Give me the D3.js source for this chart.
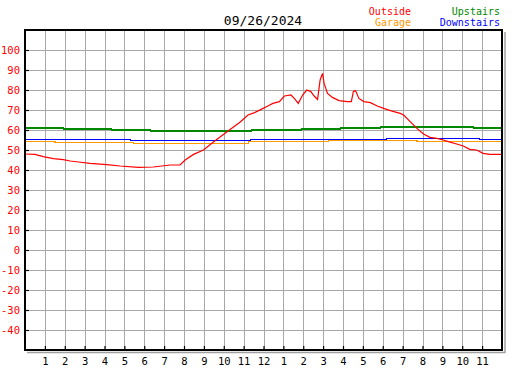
<!DOCTYPE html>
<html>
<head>
<meta charset="utf-8">
<script src="https://cdn.jsdelivr.net/npm/d3@7"></script>
<style>
  body { margin: 0; background: #fff; }
  text { font-family: "DejaVu Sans Mono", monospace; }
</style>
</head>
<body>
<svg id="chart" width="527" height="370"></svg>
<script>
var title = "09/26/2024";
var hourLabels = ["1","2","3","4","5","6","7","8","9","10","11","12","1","2","3","4","5","6","7","8","9","10","11"];
var tempTicks = [-40, -30, -20, -10, 0, 10, 20, 30, 40, 50, 60, 70, 80, 90, 100];

var outsideHours = [0, 0.5, 0.92, 1.43, 1.93, 2.27, 2.69, 3.27, 4.11, 4.78, 5.71, 6.46, 7.3, 7.8, 8.06, 8.48, 8.98, 9.48, 10.15, 10.83, 11.22, 11.55, 11.88, 12.22, 12.47, 12.8, 13.05, 13.38, 13.55, 13.75, 13.97, 14.18, 14.38, 14.55, 14.72, 14.85, 14.97, 15.05, 15.22, 15.47, 15.8, 16.22, 16.42, 16.52, 16.63, 16.8, 17.05, 17.38, 17.72, 18.05, 18.38, 18.88, 19.05, 19.38, 19.72, 20.05, 20.38, 20.72, 21.05, 21.3, 21.72, 22.05, 22.38, 22.72, 23.05, 23.38, 24];
var outsideTemps = [48, 47.8, 46.7, 45.7, 45.2, 44.5, 44, 43.3, 42.7, 42, 41.3, 41.5, 42.5, 42.5, 45, 47.8, 50, 54, 59, 64, 67.5, 68.7, 70.3, 72, 73.3, 74.2, 77, 77.5, 75.8, 73.3, 77.5, 80, 79.2, 77, 75.3, 85, 88.3, 83.3, 78.3, 76.3, 74.7, 74.2, 74.2, 79.2, 79.7, 75.8, 74.2, 73.7, 72, 70.8, 69.7, 68.3, 67.5, 64.2, 60.8, 58, 56.3, 55.8, 55, 54.2, 53, 52, 50.3, 50, 48.3, 47.8, 47.8];

var upstairsHours = [0, 1.93, 4.36, 6.3, 11.41, 13.9, 15.86, 17.9, 22.57, 24];
var upstairsTemps = [61, 60.5, 60, 59.5, 60, 60.5, 61, 61.5, 61, 61];

var downstairsHours = [0, 5.3, 11.33, 18.2, 22.88, 24];
var downstairsTemps = [55.3, 54.8, 55.3, 55.8, 55.3, 55.3];

var garageHours = [0, 1.51, 5.45, 11.25, 15.27, 19.72, 24];
var garageTemps = [54.3, 53.8, 53.3, 54.3, 54.8, 54.3, 54.3];

var margin = { top: 30, right: 25, bottom: 20, left: 25 };
var width = 477;
var height = 320;

var root = d3.select("#chart");
var svg = root.
  append("g").
  attr("transform", "translate(" + margin.left + "," + margin.top + ")");

var xScale = d3.scaleLinear().domain([0, 24]).range([0, width]);
var yScale = d3.scaleLinear().domain([-50, 110]).range([height, 0]);

var hours = d3.range(1, 24);

// grid
svg.append("g").
  attr("class", "grid").
  call(d3.axisBottom(xScale).tickValues(hours).tickSize(height).tickFormat(""));
svg.append("g").
  attr("class", "grid").
  call(d3.axisLeft(yScale).tickValues(tempTicks).tickSize(-width).tickFormat(""));
svg.selectAll(".grid .domain").remove();
svg.selectAll(".grid line").
  attr("stroke", "#a8a8a8").
  attr("shape-rendering", "crispEdges");

// series
var series = [
  { hours: upstairsHours, temps: upstairsTemps, color: "#008800", step: true },
  { hours: garageHours, temps: garageTemps, color: "#ff9900", step: true },
  { hours: downstairsHours, temps: downstairsTemps, color: "#0000ff", step: true },
  { hours: outsideHours, temps: outsideTemps, color: "#ff0000", step: false }
];

series.forEach(function(s) {
  var pts = s.hours.map(function(h, i) { return [h, s.temps[i]]; });
  var line = d3.line().
    x(function(d) { return xScale(d[0]); }).
    y(function(d) { return yScale(d[1]); }).
    curve(s.step ? d3.curveStepAfter : d3.curveLinear);
  svg.append("path").
    datum(pts).
    attr("fill", "none").
    attr("stroke", s.color).
    attr("stroke-width", s.step ? 1.3 : 1.2).
    attr("shape-rendering", s.step ? "crispEdges" : "auto").
    attr("d", line);
});

// frame with shadow
svg.append("line").
  attr("x1", width + 3).attr("x2", width + 3).attr("y1", 2).attr("y2", height + 3).
  attr("stroke", "#a0a0a0").attr("stroke-width", 1.5);
svg.append("line").
  attr("x1", 2).attr("x2", width + 3).attr("y1", height + 2.5).attr("y2", height + 2.5).
  attr("stroke", "#a0a0a0").attr("stroke-width", 1.5);
svg.append("rect").
  attr("x", 0).attr("y", 0).attr("width", width).attr("height", height).
  attr("fill", "none").attr("stroke", "#000").attr("stroke-width", 2);

// axes
var xAxis = d3.axisBottom(xScale).
  tickValues(hours).
  tickSize(-4).
  tickPadding(8).
  tickFormat(function(d) { return hourLabels[d - 1]; });
var gX = svg.append("g").
  attr("transform", "translate(0," + height + ")").
  call(xAxis);

var yAxis = d3.axisLeft(yScale).
  tickValues(tempTicks).
  tickSize(-4).
  tickPadding(5).
  tickFormat(function(d) { return String(d); });
var gY = svg.append("g").call(yAxis);

svg.selectAll(".domain").remove();
gX.selectAll("line").attr("stroke", "#000").attr("stroke-width", 1.2);
gY.selectAll("line").attr("stroke", "#000").attr("stroke-width", 1.2);
gX.selectAll("text").
  attr("fill", "#000").
  style("font-size", "10.5px").
  style("font-family", "'DejaVu Sans Mono', monospace");
gY.selectAll("text").
  attr("fill", "#ff0000").
  style("font-size", "10.5px").
  style("font-family", "'DejaVu Sans Mono', monospace");

// title + legend
root.append("text").
  attr("x", 263).attr("y", 25).
  attr("text-anchor", "middle").
  style("font-size", "13px").
  text(title);

var legend = [
  { name: "Outside", color: "#ff0000", x: 411, y: 15 },
  { name: "Garage", color: "#ff9900", x: 411, y: 26 },
  { name: "Upstairs", color: "#008800", x: 500, y: 15 },
  { name: "Downstairs", color: "#0000ff", x: 500, y: 26 }
];
root.selectAll(".legend").
  data(legend).
  enter().append("text").
  attr("class", "legend").
  attr("x", function(d) { return d.x; }).
  attr("y", function(d) { return d.y; }).
  attr("text-anchor", "end").
  attr("fill", function(d) { return d.color; }).
  style("font-size", "10px").
  text(function(d) { return d.name; });
</script>
</body>
</html>
